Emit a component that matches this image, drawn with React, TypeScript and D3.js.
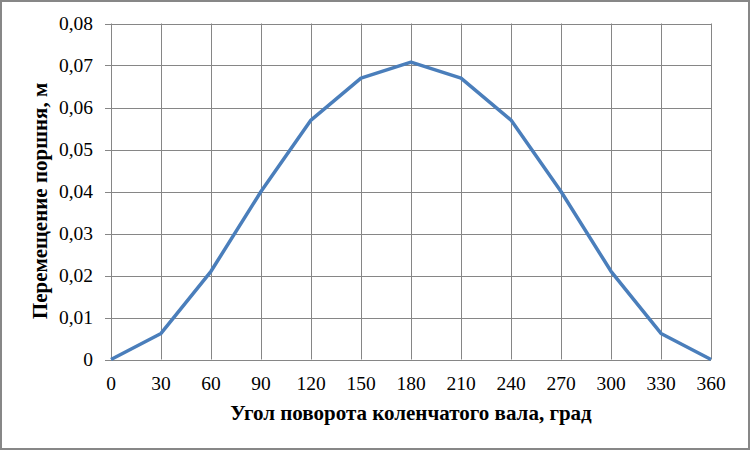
import React from "react";
import * as d3 from "d3";

const angles = [0, 30, 60, 90, 120, 150, 180, 210, 240, 270, 300, 330, 360];
const displacement = [0, 0.0062, 0.021, 0.040, 0.057, 0.067, 0.0708, 0.067, 0.057, 0.040, 0.021, 0.0062, 0];
const yTicks = [0, 0.01, 0.02, 0.03, 0.04, 0.05, 0.06, 0.07, 0.08];
const xTitle = "Угол поворота коленчатого вала, град";
const yTitle = "Перемещение поршня, м";

const W = 752, H = 452;
const L = 111, R = 711, T = 23.5, B = 359.5;

export default function App() {
  const x = d3.scaleLinear().domain([0, 360]).range([L, R]);
  const y = d3.scaleLinear().domain([0, 0.08]).range([B, T]);
  const line = d3.line<number>().x((_, i) => x(angles[i])).y((d) => y(d));
  const fmt = (v: number) => (v === 0 ? "0" : v.toFixed(2).replace(".", ","));
  const font = "'Liberation Serif', 'Times New Roman', serif";
  return (
    <svg width={W} height={H} style={{ position: "absolute", left: 0, top: 0 }} fontFamily={font}>
      <rect x={0} y={0} width={W} height={H} fill="#fff" />
      <rect x={1} y={1} width={748} height={448} fill="none" stroke="#878787" strokeWidth={2} />
      {yTicks.map((t) => (
        <g key={"y" + t}>
          <line x1={L - 6} x2={R} y1={Math.round(y(t)) + 0.5} y2={Math.round(y(t)) + 0.5} stroke="#868686" strokeWidth={1} />
          <text x={93} y={y(t)} dy="0.35em" textAnchor="end" fontSize={19.5} fill="#000">{fmt(t)}</text>
        </g>
      ))}
      {angles.map((a) => (
        <g key={"x" + a}>
          <line x1={Math.round(x(a)) + 0.5} x2={Math.round(x(a)) + 0.5} y1={T} y2={B} stroke="#868686" strokeWidth={1} />
          <text x={x(a)} y={383} dy="0.35em" textAnchor="middle" fontSize={19.5} fill="#000">{a}</text>
        </g>
      ))}
      <path d={line(displacement) || ""} fill="none" stroke="#4A7EBB" strokeWidth={3.5} strokeLinejoin="round" />
      <text x={411} y={413} dy="0.35em" textAnchor="middle" fontSize={21} fontWeight="bold" fill="#000">{xTitle}</text>
      <text transform={`translate(40,201) rotate(-90)`} textAnchor="middle" dy="0.35em" fontSize={21} fontWeight="bold" fill="#000">{yTitle}</text>
    </svg>
  );
}
